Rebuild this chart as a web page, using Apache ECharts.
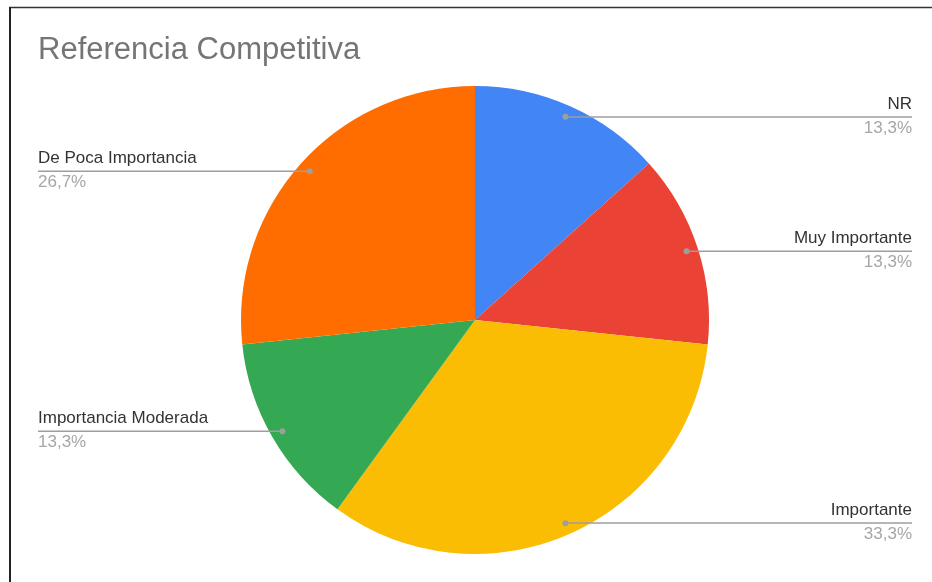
<!DOCTYPE html>
<html>
<head>
<meta charset="utf-8">
<script src="https://cdn.jsdelivr.net/npm/echarts@6/dist/echarts.min.js"></script>
<style>
  html, body { margin: 0; padding: 0; background: #fff; }
  #main { width: 932px; height: 582px; }
</style>
</head>
<body>
<div id="main"></div>
<script>
// datos del gráfico
var categorias = ['NR', 'Muy Importante', 'Importante', 'Importancia Moderada', 'De Poca Importancia'];
var respuestas = [2, 2, 5, 2, 4];
var colores = ['#4285F4', '#EA4335', '#FBBC04', '#34A853', '#FF6D01'];

var CX = 475, CY = 320, R = 234;   // centro y radio del pastel
var BORDE_IZQ = 38, BORDE_DER = 912; // donde terminan las líneas de etiqueta
var FUENTE = 'Liberation Sans, Arial, sans-serif';
var total = respuestas.reduce(function(a, b) { return a + b; }, 0);

var datos = categorias.map(function(n, i) {
  return { name: n, value: respuestas[i], itemStyle: { color: colores[i] } };
});
// copia sin color, para las series transparentes
var datosVacios = categorias.map(function(n, i) {
  return { name: n, value: respuestas[i] };
});

function porcentaje(v) {
  return (v / total * 100).toFixed(1).replace('.', ',') + '%';
}

var myChart = echarts.init(document.getElementById('main'));

var option = {
  animation: false,
  backgroundColor: '#fff',
  title: {
    text: 'Referencia Competitiva',
    left: 38,
    top: 35,
    padding: 0,
    textStyle: {
      fontFamily: FUENTE,
      fontSize: 31,
      fontWeight: 'normal',
      color: '#757575'
    }
  },
  graphic: [
    // marco del recuadro (arriba e izquierda)
    { type: 'line', shape: { x1: 9, y1: 7.5, x2: 932, y2: 7.5 }, style: { stroke: '#333', lineWidth: 1.5 } },
    { type: 'line', shape: { x1: 10, y1: 7, x2: 10, y2: 582 }, style: { stroke: '#222', lineWidth: 2 } }
  ],
  series: [{
    // el pastel
    type: 'pie',
    z: 2,
    center: [CX, CY],
    radius: R,
    startAngle: 90,
    clockwise: true,
    data: datos,
    emphasis: { disabled: true },
    label: { show: false },
    labelLine: { show: false }
  }, {
    // etiquetas y líneas, encima del pastel
    type: 'pie',
    z: 3,
    silent: true,
    center: [CX, CY],
    radius: R,
    startAngle: 90,
    clockwise: true,
    data: datosVacios,
    itemStyle: { color: 'rgba(0,0,0,0)' },
    emphasis: { disabled: true },
    label: {
      show: true,
      position: 'outside',
      formatter: function(p) {
        return '{n|' + p.name + '}\n{p|' + porcentaje(p.value) + '}';
      },
      rich: {
        n: { fontFamily: FUENTE, fontSize: 17, color: '#333', lineHeight: 24 },
        p: { fontFamily: FUENTE, fontSize: 17, color: '#a6a6a6', lineHeight: 24 }
      }
    },
    labelLine: {
      show: true,
      length: 10,
      length2: 10,
      lineStyle: { color: '#9e9e9e', width: 1.5 }
    },
    labelLayout: function(params) {
      var pts = params.labelLinePoints;
      if (!pts) return {};
      var dx = pts[0][0] - CX, dy = pts[0][1] - CY;
      var d = Math.sqrt(dx * dx + dy * dy) || 1;
      var px = CX + dx / d * R * 0.95;
      var py = CY + dy / d * R * 0.95;
      var der = dx >= 0;
      var borde = der ? BORDE_DER : BORDE_IZQ;
      return {
        x: borde,
        y: py - 0.5,
        align: der ? 'right' : 'left',
        verticalAlign: 'middle',
        labelLinePoints: [[px, py], [borde, py]]
      };
    }
  }, {
    // puntos grises al inicio de cada línea
    type: 'pie',
    z: 4,
    silent: true,
    center: [CX, CY],
    radius: [R * 0.875, R],
    startAngle: 90,
    clockwise: true,
    data: datosVacios,
    itemStyle: { color: 'rgba(0,0,0,0)' },
    emphasis: { disabled: true },
    labelLine: { show: false },
    label: {
      show: true,
      position: 'inside',
      formatter: '{d|}',
      lineHeight: 6,
      rich: {
        d: { width: 6, height: 6, lineHeight: 6, fontSize: 6, borderRadius: 3, backgroundColor: '#9e9e9e' }
      }
    }
  }]
};

myChart.setOption(option);
</script>
</body>
</html>
